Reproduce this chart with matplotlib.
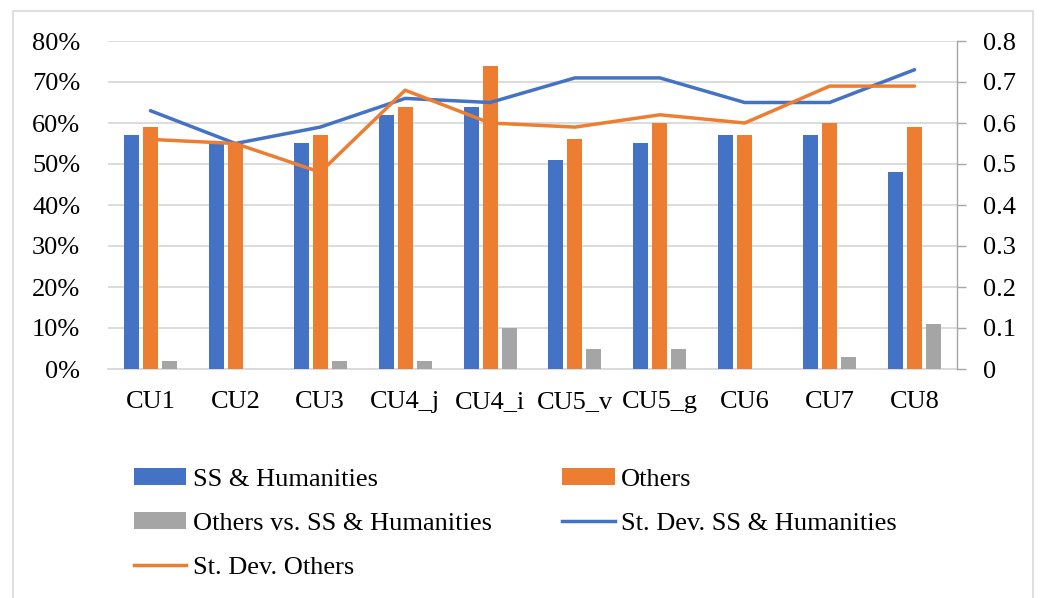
import matplotlib
matplotlib.use("Agg")
import matplotlib.pyplot as plt
import numpy as np
from matplotlib.patches import Rectangle, Patch
from matplotlib.lines import Line2D
from matplotlib.ticker import FuncFormatter, MultipleLocator

categories = ["CU1", "CU2", "CU3", "CU4_j", "CU4_i", "CU5_v", "CU5_g", "CU6", "CU7", "CU8"]
ss_humanities = [57, 55, 55, 62, 64, 51, 55, 57, 57, 48]
others = [59, 55, 57, 64, 74, 56, 60, 57, 60, 59]
others_vs_ss = [2, 0, 2, 2, 10, 5, 5, 0, 3, 11]
sd_ss = [0.63, 0.55, 0.59, 0.66, 0.65, 0.71, 0.71, 0.65, 0.65, 0.73]
sd_others = [0.56, 0.55, 0.48, 0.68, 0.60, 0.59, 0.62, 0.60, 0.69, 0.69]

BLUE = "#4472C4"
ORANGE = "#ED7D31"
GRAY = "#A5A5A5"
GRID = "#D9D9D9"

plt.rcParams["font.family"] = ["Liberation Serif", "DejaVu Serif"]
FS = 19

W, H = 1040, 598
fig = plt.figure(figsize=(W / 100, H / 100), dpi=100)
ax = fig.add_axes([108 / W, 1 - 369 / H, (957 - 108) / W, (369 - 41) / H])
ax2 = ax.twinx()

x = np.arange(len(categories))
bw = 0.177
off = 0.224
ax.bar(x - off, ss_humanities, bw, color=BLUE, zorder=3)
ax.bar(x, others, bw, color=ORANGE, zorder=3)
ax.bar(x + off, others_vs_ss, bw, color=GRAY, zorder=3)

ax.set_xlim(-0.5, len(categories) - 0.5)
ax.set_ylim(0, 80)
ax.yaxis.set_major_locator(MultipleLocator(10))
ax.yaxis.set_major_formatter(FuncFormatter(lambda v, p: f"{int(round(v))}%"))
ax.grid(axis="y", color=GRID, lw=1.3, zorder=0)
ax.set_axisbelow(True)
ax.set_xticks(x)
ax.set_xticklabels(categories, fontsize=FS)
ax.tick_params(axis="x", length=0, pad=16)
ax.tick_params(axis="y", length=0, pad=20, labelsize=FS)
for s in ["top", "left", "right"]:
    ax.spines[s].set_visible(False)
ax.spines["bottom"].set_color(GRID)
ax.spines["bottom"].set_linewidth(1.3)

ax2.plot(x, sd_ss, color=BLUE, lw=2.5, zorder=4, solid_capstyle="round")
ax2.plot(x, sd_others, color=ORANGE, lw=2.5, zorder=4, solid_capstyle="round")
ax2.set_ylim(0, 0.8)
ax2.yaxis.set_major_locator(MultipleLocator(0.1))
ax2.yaxis.set_major_formatter(FuncFormatter(lambda v, p: "0" if abs(v) < 1e-9 else f"{v:.1f}"))
ax2.tick_params(axis="y", length=6.5, width=1, color="#A6A6A6", pad=12, labelsize=FS)
for s in ["top", "left", "bottom"]:
    ax2.spines[s].set_visible(False)
ax2.spines["right"].set_color("#A6A6A6")
ax2.spines["right"].set_linewidth(1)

handles = [
    Patch(facecolor=BLUE, label="SS & Humanities"),
    Patch(facecolor=GRAY, label="Others vs. SS & Humanities"),
    Line2D([], [], color=ORANGE, lw=2.5, label="St. Dev. Others"),
    Patch(facecolor=ORANGE, label="Others"),
    Line2D([], [], color=BLUE, lw=2.5, label="St. Dev. SS & Humanities"),
]
fig.legend(handles=handles, loc="upper left", bbox_to_anchor=(123 / W, 1 - 457 / H),
           ncol=2, frameon=False, fontsize=FS, handlelength=2.0, handleheight=0.65,
           handletextpad=0.25, columnspacing=2.65, labelspacing=0.8, borderaxespad=0)

fig.patches.append(Rectangle((13 / W, -0.02), (1033 - 13) / W, 1.02 - 11 / H,
                             transform=fig.transFigure, fill=False, edgecolor=GRID, lw=1.2))

fig.savefig("out.png", dpi=100)
